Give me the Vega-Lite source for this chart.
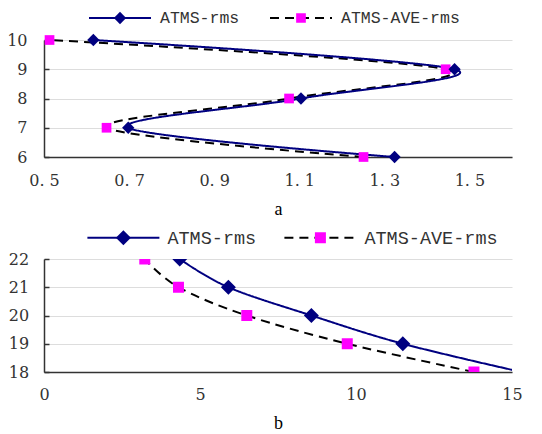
{
  "$schema": "https://vega.github.io/schema/vega-lite/v6.json",
  "background": "white",
  "padding": {"left": 6, "top": 9, "right": 5, "bottom": 0},
  "spacing": 9,
  "config": {
    "view": {"stroke": null},
    "axis": {
      "domainColor": "#333333",
      "domainWidth": 1.5,
      "tickColor": "#333333",
      "tickWidth": 1.5,
      "labelColor": "#333333",
      "labelFont": "DejaVu Serif",
      "labelFontSize": 16,
      "titleFont": "Liberation Serif",
      "titleFontSize": 18,
      "titleFontWeight": "normal",
      "titleColor": "#000000",
      "gridColor": "#dddddd",
      "labelFlush": false,
      "labelOverlap": false
    },
    "legend": {
      "orient": "none",
      "title": null,
      "padding": 0,
      "labelLimit": 0,
      "labelFont": "Liberation Mono",
      "labelColor": "#333333"
    }
  },
  "resolve": {
    "scale": {"stroke": "independent", "strokeDash": "independent", "fill": "independent", "shape": "independent"},
    "legend": {"stroke": "independent", "strokeDash": "independent", "fill": "independent", "shape": "independent"}
  },
  "vconcat": [
    {
      "width": 468,
      "height": 117,
      "data": {"values": [
        {"series": "ATMS-AVE-rms", "value": 0.513, "level": 10},
        {"series": "ATMS-AVE-rms", "value": 1.444, "level": 9},
        {"series": "ATMS-AVE-rms", "value": 1.076, "level": 8},
        {"series": "ATMS-AVE-rms", "value": 0.647, "level": 7},
        {"series": "ATMS-AVE-rms", "value": 1.251, "level": 6},
        {"series": "ATMS-rms", "value": 0.616, "level": 10},
        {"series": "ATMS-rms", "value": 1.465, "level": 9},
        {"series": "ATMS-rms", "value": 1.104, "level": 8},
        {"series": "ATMS-rms", "value": 0.698, "level": 7},
        {"series": "ATMS-rms", "value": 1.324, "level": 6}
      ]},
      "encoding": {
        "x": {"field": "value", "type": "quantitative",
          "scale": {"domain": [0.5, 1.6], "nice": false, "zero": false},
          "axis": {"values": [0.5, 0.7, 0.9, 1.1, 1.3, 1.5], "tickCount": 20, "labelExpr": "replace(format(datum.value, '.1f'), '.', '. ')", "grid": false, "ticks": false, "labelPadding": 15, "title": "a", "titlePadding": 12.6}},
        "y": {"field": "level", "type": "quantitative",
          "scale": {"domain": [6, 10], "nice": false, "zero": false},
          "axis": {"values": [6, 7, 8, 9, 10], "tickCount": 20, "format": "d", "grid": true, "tickSize": -5, "labelPadding": 22, "title": null}}
      },
      "layer": [
        {
          "transform": [{"filter": "datum.series === 'ATMS-AVE-rms'"}],
          "mark": {"type": "line", "interpolate": "cardinal", "strokeWidth": 2},
          "encoding": {
            "order": {"field": "level", "type": "quantitative"},
            "stroke": {"field": "series", "type": "nominal", "scale": {"range": ["#000000"]},
              "legend": {"legendX": 225, "legendY": -30.25, "symbolType": "stroke", "symbolSize": 3844, "symbolStrokeWidth": 2, "clipHeight": 16.5, "labelFontSize": 16.5, "labelOffset": 8}},
            "strokeDash": {"field": "series", "type": "nominal", "scale": {"range": [[9, 6]]}}
          }
        },
        {
          "transform": [{"filter": "datum.series === 'ATMS-rms'"}],
          "mark": {"type": "line", "interpolate": "cardinal", "strokeWidth": 2},
          "encoding": {
            "order": {"field": "level", "type": "quantitative"},
            "stroke": {"field": "series", "type": "nominal", "scale": {"range": ["#000080"]},
              "legend": {"legendX": 44, "legendY": -30.25, "symbolType": "stroke", "symbolSize": 3844, "symbolStrokeWidth": 2, "clipHeight": 16.5, "labelFontSize": 16.5, "labelOffset": 8}},
            "strokeDash": {"field": "series", "type": "nominal", "scale": {"range": [[1, 0]]}}
          }
        },
        {
          "transform": [{"filter": "datum.series === 'ATMS-AVE-rms'"}],
          "mark": {"type": "point", "filled": true, "opacity": 1, "strokeWidth": 0, "size": 94},
          "encoding": {
            "fill": {"field": "series", "type": "nominal", "scale": {"range": ["#ff00ff"]},
              "legend": {"legendX": 225, "legendY": -30.25, "symbolSize": 94, "symbolStrokeWidth": 0, "symbolOpacity": 1, "clipHeight": 16.5, "labelFontSize": 64, "labelExpr": "''", "labelOffset": 8}},
            "shape": {"field": "series", "type": "nominal", "scale": {"range": ["square"]}}
          }
        },
        {
          "transform": [{"filter": "datum.series === 'ATMS-rms'"}],
          "mark": {"type": "point", "filled": true, "opacity": 1, "strokeWidth": 0, "size": 151},
          "encoding": {
            "fill": {"field": "series", "type": "nominal", "scale": {"range": ["#000080"]},
              "legend": {"legendX": 44, "legendY": -30.25, "symbolSize": 151, "symbolStrokeWidth": 0, "symbolOpacity": 1, "clipHeight": 16.5, "labelFontSize": 64, "labelExpr": "''", "labelOffset": 8}},
            "shape": {"field": "series", "type": "nominal", "scale": {"range": ["diamond"]}}
          }
        }
      ],
      "resolve": {
        "scale": {"stroke": "independent", "strokeDash": "independent", "fill": "independent", "shape": "independent"},
        "legend": {"stroke": "independent", "strokeDash": "independent", "fill": "independent", "shape": "independent"}
      }
    },
    {
      "width": 468,
      "height": 113,
      "data": {"values": [
        {"series": "ATMS-AVE-rms", "value": 3.23, "level": 22},
        {"series": "ATMS-AVE-rms", "value": 4.31, "level": 21},
        {"series": "ATMS-AVE-rms", "value": 6.5, "level": 20},
        {"series": "ATMS-AVE-rms", "value": 9.72, "level": 19},
        {"series": "ATMS-AVE-rms", "value": 13.78, "level": 18},
        {"series": "ATMS-rms", "value": 4.35, "level": 22},
        {"series": "ATMS-rms", "value": 5.91, "level": 21},
        {"series": "ATMS-rms", "value": 8.57, "level": 20},
        {"series": "ATMS-rms", "value": 11.5, "level": 19},
        {"series": "ATMS-rms", "value": 15.3, "level": 18}
      ]},
      "encoding": {
        "x": {"field": "value", "type": "quantitative",
          "scale": {"domain": [0, 15], "nice": false, "zero": false},
          "axis": {"values": [0, 5, 10, 15], "tickCount": 20, "format": "d", "grid": false, "ticks": false, "labelPadding": 14.3, "title": "b", "titlePadding": 12.6}},
        "y": {"field": "level", "type": "quantitative",
          "scale": {"domain": [18, 22], "nice": false, "zero": false},
          "axis": {"values": [18, 19, 20, 21, 22], "tickCount": 20, "format": "d", "grid": true, "tickSize": -5, "labelPadding": 20.3, "title": null}}
      },
      "layer": [
        {
          "transform": [{"filter": "datum.series === 'ATMS-AVE-rms'"}],
          "mark": {"type": "line", "interpolate": "cardinal", "strokeWidth": 2, "clip": true},
          "encoding": {
            "order": {"field": "level", "type": "quantitative"},
            "stroke": {"field": "series", "type": "nominal", "scale": {"range": ["#000000"]},
              "legend": {"legendX": 239.4, "legendY": -30.55, "symbolType": "stroke", "symbolSize": 5184, "symbolStrokeWidth": 2, "clipHeight": 18.5, "labelFontSize": 18.5, "labelOffset": 7}},
            "strokeDash": {"field": "series", "type": "nominal", "scale": {"range": [[9, 6]]}}
          }
        },
        {
          "transform": [{"filter": "datum.series === 'ATMS-rms'"}],
          "mark": {"type": "line", "interpolate": "cardinal", "strokeWidth": 2, "clip": true},
          "encoding": {
            "order": {"field": "level", "type": "quantitative"},
            "stroke": {"field": "series", "type": "nominal", "scale": {"range": ["#000080"]},
              "legend": {"legendX": 42.4, "legendY": -30.55, "symbolType": "stroke", "symbolSize": 5184, "symbolStrokeWidth": 2, "clipHeight": 18.5, "labelFontSize": 18.5, "labelOffset": 7}},
            "strokeDash": {"field": "series", "type": "nominal", "scale": {"range": [[1, 0]]}}
          }
        },
        {
          "transform": [{"filter": "datum.series === 'ATMS-AVE-rms'"}],
          "mark": {"type": "point", "filled": true, "opacity": 1, "strokeWidth": 0, "size": 121, "clip": true},
          "encoding": {
            "fill": {"field": "series", "type": "nominal", "scale": {"range": ["#ff00ff"]},
              "legend": {"legendX": 239.4, "legendY": -30.55, "symbolSize": 121, "symbolStrokeWidth": 0, "symbolOpacity": 1, "clipHeight": 18.5, "labelFontSize": 74, "labelExpr": "''", "labelOffset": 7}},
            "shape": {"field": "series", "type": "nominal", "scale": {"range": ["square"]}}
          }
        },
        {
          "transform": [{"filter": "datum.series === 'ATMS-rms'"}],
          "mark": {"type": "point", "filled": true, "opacity": 1, "strokeWidth": 0, "size": 225, "clip": true},
          "encoding": {
            "fill": {"field": "series", "type": "nominal", "scale": {"range": ["#000080"]},
              "legend": {"legendX": 42.4, "legendY": -30.55, "symbolSize": 225, "symbolStrokeWidth": 0, "symbolOpacity": 1, "clipHeight": 18.5, "labelFontSize": 74, "labelExpr": "''", "labelOffset": 7}},
            "shape": {"field": "series", "type": "nominal", "scale": {"range": ["diamond"]}}
          }
        }
      ],
      "resolve": {
        "scale": {"stroke": "independent", "strokeDash": "independent", "fill": "independent", "shape": "independent"},
        "legend": {"stroke": "independent", "strokeDash": "independent", "fill": "independent", "shape": "independent"}
      }
    }
  ]
}
